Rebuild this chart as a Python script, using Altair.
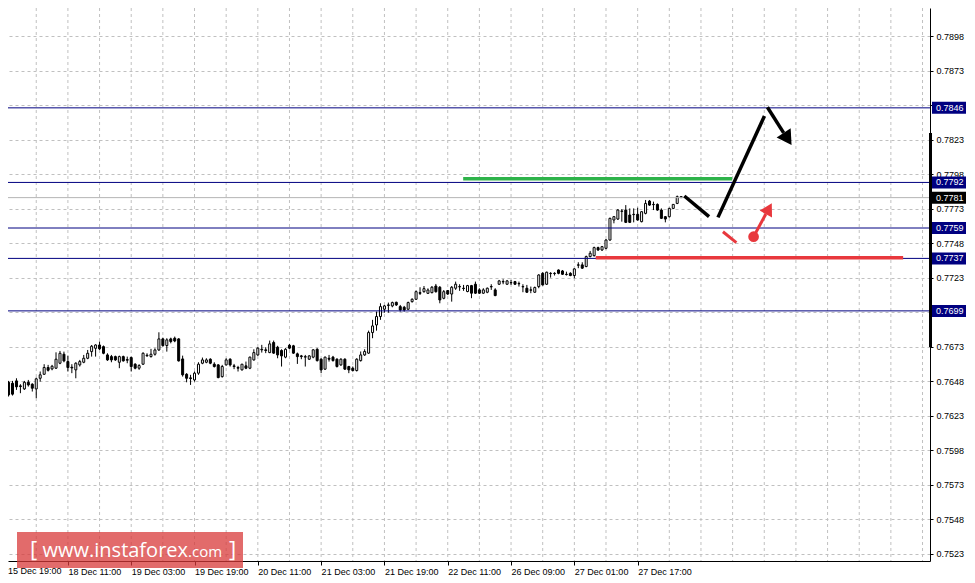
import altair as alt
import pandas as pd

# ---------------- data (H1 candles) ----------------
opens = [
    .76418, .76473, .76466, .76483, .76447, .76425, .76473, .76459, .76425, .76502,
    .76531, .76580, .76570, .76575, .76611, .76676, .76623, .76582, .76563, .76599,
    .76618, .76647, .76695, .76719, .76743, .76731, .76671, .76659, .76659, .76618,
    .76659, .76637, .76652, .76604, .76575, .76604, .76669, .76659, .76676, .76707,
    .76787, .76739, .76787, .76792, .76787, .76642, .76531, .76505, .76490, .76539,
    .76611, .76618, .76640, .76604, .76599, .76514, .76599, .76640,
    .76592, .76580, .76563, .76592, .76575, .76635, .76671, .76712, .76708, .76688,
    .76761, .76727, .76703, .76655, .76741, .76737, .76679, .76664, .76655, .76640,
    .76655, .76712, .76640, .76568, .76647, .76655, .76640, .76599, .76640, .76587,
    .76575, .76558, .76630, .76671, .76684, .76833, .76888, .76949, .77002, .77033,
    .77026, .77052, .77021, .77016, .77002, .77057, .77074, .77122, .77129, .77117,
    .77122, .77170, .77161, .77081, .77137, .77112,
    .77154, .77166, .77154, .77130, .77173, .77183, .77142, .77118, .77125, .77166,
    .77142, .77183, .77202, .77183, .77195, .77202, .77188, .77166, .77154, .77142,
    .77125, .77166, .77262, .77183, .77262, .77262, .77286, .77279, .77255, .77262,
    .77246, .77323, .77323, .77311, .77383, .77390, .77448, .77431, .77443, .77503,
    .77648, .77655, .77713, .77720, .77684, .77689, .77689, .77636, .77696, .77785,
    .77761, .77761, .77720, .77672, .77672, .77732, .77768, .77817,
]
highs = [
    .76466, .76483, .76483, .76502, .76459, .76483, .76490, .76466, .76507, .76551,
    .76604, .76599, .76599, .76690, .76700, .76695, .76666, .76604, .76618, .76635,
    .76671, .76707, .76743, .76748, .76768, .76739, .76683, .76671, .76666, .76666,
    .76666, .76659, .76659, .76611, .76604, .76690, .76683, .76715, .76719, .76835,
    .76796, .76792, .76796, .76804, .76792, .76666, .76539, .76527, .76551, .76618,
    .76652, .76647, .76647, .76618, .76604, .76599, .76647, .76647,
    .76606, .76592, .76606, .76623, .76659, .76712, .76727, .76744, .76727, .76775,
    .76775, .76737, .76712, .76720, .76751, .76744, .76688, .76671, .76671, .76669,
    .76712, .76720, .76647, .76659, .76671, .76664, .76647, .76647, .76647, .76592,
    .76587, .76647, .76696, .76712, .76847, .76925, .76985, .77045, .77033, .77050,
    .77057, .77057, .77033, .77026, .77057, .77081, .77137, .77161, .77170, .77153,
    .77170, .77185, .77170, .77141, .77141, .77170,
    .77202, .77183, .77178, .77178, .77178, .77202, .77154, .77154, .77159, .77183,
    .77154, .77214, .77219, .77214, .77214, .77207, .77202, .77183, .77178, .77166,
    .77166, .77255, .77270, .77274, .77270, .77270, .77290, .77286, .77274, .77270,
    .77299, .77342, .77342, .77390, .77424, .77455, .77455, .77460, .77510, .77665,
    .77677, .77727, .77727, .77756, .77732, .77732, .77737, .77713, .77793, .77793,
    .77781, .77768, .77732, .77677, .77737, .77763, .77825, .77817,
]
lows = [
    .76406, .76370, .76377, .76418, .76394, .76418, .76442, .76406, .76358, .76478,
    .76527, .76551, .76560, .76570, .76604, .76618, .76551, .76539, .76502, .76587,
    .76611, .76640, .76659, .76659, .76707, .76676, .76628, .76618, .76628, .76575,
    .76623, .76611, .76551, .76567, .76563, .76599, .76659, .76652, .76666, .76700,
    .76731, .76695, .76755, .76763, .76623, .76514, .76473, .76454, .76478, .76527,
    .76604, .76611, .76604, .76580, .76502, .76507, .76594, .76587,
    .76568, .76551, .76558, .76568, .76568, .76630, .76664, .76688, .76684, .76684,
    .76679, .76647, .76587, .76647, .76712, .76679, .76606, .76640, .76587, .76635,
    .76647, .76623, .76539, .76563, .76623, .76623, .76580, .76592, .76563, .76539,
    .76551, .76551, .76623, .76664, .76679, .76792, .76847, .76925, .76977, .76977,
    .77016, .77026, .76985, .76985, .76997, .77050, .77069, .77105, .77122, .77112,
    .77117, .77122, .77045, .77074, .77105, .77057,
    .77142, .77135, .77135, .77125, .77082, .77113, .77113, .77113, .77118, .77142,
    .77096, .77178, .77183, .77178, .77178, .77178, .77166, .77125, .77120, .77118,
    .77120, .77154, .77173, .77178, .77231, .77246, .77255, .77250, .77246, .77241,
    .77226, .77299, .77294, .77306, .77378, .77383, .77424, .77424, .77436, .77498,
    .77624, .77648, .77636, .77626, .77626, .77631, .77643, .77631, .77689, .77751,
    .77720, .77715, .77655, .77631, .77665, .77727, .77763, .77810,
]
closes = [
    .76454, .76382, .76387, .76440, .76442, .76473, .76454, .76430, .76498, .76527,
    .76580, .76560, .76589, .76640, .76683, .76628, .76580, .76577, .76611, .76623,
    .76647, .76683, .76734, .76743, .76715, .76683, .76635, .76635, .76635, .76659,
    .76628, .76633, .76587, .76575, .76594, .76683, .76664, .76676, .76707, .76787,
    .76739, .76780, .76768, .76772, .76628, .76527, .76502, .76500, .76539, .76604,
    .76635, .76635, .76611, .76587, .76507, .76587, .76635, .76599,
    .76587, .76575, .76604, .76575, .76655, .76688, .76720, .76708, .76703, .76751,
    .76684, .76671, .76664, .76712, .76720, .76684, .76659, .76659, .76659, .76664,
    .76708, .76630, .76563, .76655, .76640, .76630, .76587, .76640, .76568, .76563,
    .76558, .76640, .76671, .76696, .76833, .76881, .76949, .77021, .77026, .77030,
    .77050, .77033, .76997, .76997, .77050, .77074, .77129, .77117, .77151, .77141,
    .77161, .77129, .77069, .77129, .77112, .77161,
    .77183, .77164, .77152, .77173, .77118, .77118, .77118, .77142, .77154, .77164,
    .77101, .77207, .77200, .77207, .77193, .77183, .77186, .77164, .77125, .77140,
    .77159, .77250, .77178, .77270, .77260, .77260, .77262, .77255, .77253, .77246,
    .77294, .77321, .77299, .77383, .77407, .77448, .77431, .77455, .77503, .77660,
    .77672, .77720, .77711, .77631, .77631, .77687, .77648, .77708, .77768, .77756,
    .77759, .77720, .77660, .77655, .77732, .77761, .77817, .77810,
]
bar_index = list(range(len(closes)))

y_ticks = [0.7898, 0.7873, 0.7848, 0.7823, 0.7798, 0.7773, 0.7748, 0.7723,
           0.7698, 0.7673, 0.7648, 0.7623, 0.7598, 0.7573, 0.7548, 0.7523]
y_hidden_labels = [0.7848, 0.7698]   # covered by the level tags in the reference
x_tick_index = [0, 16, 32, 48, 64, 80, 96, 112, 128, 144, 160]
x_tick_labels = ["15 Dec 19:00", "18 Dec 11:00", "19 Dec 03:00", "19 Dec 19:00",
                 "20 Dec 11:00", "21 Dec 03:00", "21 Dec 19:00", "22 Dec 11:00",
                 "26 Dec 09:00", "27 Dec 01:00", "27 Dec 17:00"]
grid_x = list(range(8, 233, 8))

level_prices = [0.7846, 0.7792, 0.7759, 0.7737, 0.7699]
bid_price = 0.7781
bid_bar = [0.78278, 0.76728]

green_i = [115.9, 183.9]
green_p = [0.77947, 0.77947]
red_i = [149.4, 227.1]
red_p = [0.77375, 0.77375]
path_seg = [1, 1, 2, 2, 3, 3]
path_i = [171.8, 178.05, 180.3, 192.05, 192.8, 196.9]
path_p = [0.77822, 0.77672, 0.77667, 0.78401, 0.78464, 0.78279]
black_head = (197.9, 0.78235)
red_dash_i = [181.55, 184.95]
red_dash_p = [0.77563, 0.77484]
red_dot = (189.3, 0.77527)
red_arrow_i = [189.3, 192.4]
red_arrow_p = [0.77527, 0.77691]
red_head = (193.15, 0.77730)

# ---------------- layout ----------------
W, H = 922, 553
y_domain = [0.75179, 0.79183]
x_domain = [2.125, 232.625]
ppp = (y_domain[1] - y_domain[0]) / H
FONT = "Liberation Sans"
NAVY = "#000080"
GRID = "#c0c0c0"
RED = "#e8383d"

xs = alt.Scale(domain=x_domain, nice=False, zero=False)
ys = alt.Scale(domain=y_domain, nice=False, zero=False)

label_js = "[" + ",".join("'" + t + "'" for t in x_tick_labels) + "]"
hide_js = " || ".join(f"abs(datum.value - {v}) < 0.00001" for v in y_hidden_labels)
x_axis = alt.Axis(values=x_tick_index[1:], labelExpr=label_js + "[round(datum.value/16)]",
                  grid=False, tickSize=4, tickColor="black", domainColor="black",
                  labelAlign="left", labelPadding=2, labelFlush=False, labelOverlap=False,
                  labelFont=FONT, labelFontSize=9, labelColor="black", title=None)
y_axis = alt.Axis(values=y_ticks, labelExpr=f"({hide_js}) ? '' : format(datum.value, '.4f')",
                  orient="right", grid=True,
                  gridColor=GRID, gridDash=[3, 3], tickSize=3, tickColor="black",
                  domainColor="black", labelPadding=3, labelOverlap=False,
                  labelFont=FONT, labelFontSize=9, labelColor="black", title=None)


def X(field):
    return alt.X(field, scale=xs, axis=x_axis)


def Y(field):
    return alt.Y(field, scale=ys, axis=y_axis)


candles = pd.DataFrame({"i": bar_index, "o": opens, "h": highs, "l": lows, "c": closes})

vgrid = alt.Chart(pd.DataFrame({"i": grid_x})).mark_rule(
    color=GRID, strokeDash=[3, 3], strokeWidth=1).encode(
    x=X("i:Q"), y=alt.value(0), y2=alt.value(H))

wick = alt.Chart(candles).mark_rule(color="black", strokeWidth=1).encode(
    x=X("i:Q"), y=Y("l:Q"), y2="h:Q")

body = alt.Chart(candles).mark_bar(size=2, stroke="black", strokeWidth=1).encode(
    x=X("i:Q"), y=Y("o:Q"), y2="c:Q",
    fill=alt.condition("datum.c >= datum.o", alt.value("white"), alt.value("black")))

levels = pd.DataFrame({"p": level_prices,
                       "lbl": [f"{v:.4f}" for v in level_prices]})
levels["p_hi"] = levels["p"] + 6 * ppp
levels["p_lo"] = levels["p"] - 6 * ppp

level_lines = alt.Chart(levels).mark_rule(color=NAVY, strokeWidth=1).encode(
    y=Y("p:Q"), x=alt.value(0), x2=alt.value(W))

bid = pd.DataFrame({"p": [bid_price], "lbl": [f"{bid_price:.4f}"],
                    "p_hi": [bid_price + 6 * ppp], "p_lo": [bid_price - 6 * ppp]})
bid_line = alt.Chart(bid).mark_rule(color="#b4b4b4", strokeWidth=1).encode(
    y=Y("p:Q"), x=alt.value(0), x2=alt.value(W))

axis_bar = alt.Chart(pd.DataFrame({"a": [bid_bar[0]], "b": [bid_bar[1]]})).mark_rule(
    color="black", strokeWidth=3).encode(
    x=alt.value(W + 0.5), y=Y("a:Q"), y2="b:Q")


def tag(df, color):
    box = alt.Chart(df).mark_rect(fill=color).encode(
        x=alt.value(W + 2), x2=alt.value(W + 36), y=Y("p_hi:Q"), y2="p_lo:Q")
    txt = alt.Chart(df).mark_text(color="white", align="left", baseline="middle",
                                  font=FONT, fontSize=9).encode(
        x=alt.value(W + 6), y=Y("p:Q"), text="lbl:N")
    return [box, txt]


green = alt.Chart(pd.DataFrame({"i": green_i, "p": green_p})).mark_line(
    color="#2eb34a", strokeWidth=3.5).encode(x=X("i:Q"), y=Y("p:Q"))
redline = alt.Chart(pd.DataFrame({"i": red_i, "p": red_p})).mark_line(
    color=RED, strokeWidth=3.5).encode(x=X("i:Q"), y=Y("p:Q"))
path = alt.Chart(pd.DataFrame({"seg": path_seg, "i": path_i, "p": path_p})).mark_line(
    color="black", strokeWidth=3.5).encode(x=X("i:Q"), y=Y("p:Q"), detail="seg:N")
bhead = alt.Chart(pd.DataFrame({"i": [black_head[0]], "p": [black_head[1]]})).mark_point(
    shape="triangle-up", filled=True, size=280, angle=147, color="black", opacity=1).encode(
    x=X("i:Q"), y=Y("p:Q"))
rdash = alt.Chart(pd.DataFrame({"i": red_dash_i, "p": red_dash_p})).mark_line(
    color=RED, strokeWidth=3).encode(x=X("i:Q"), y=Y("p:Q"))
rarrow = alt.Chart(pd.DataFrame({"i": red_arrow_i, "p": red_arrow_p})).mark_line(
    color=RED, strokeWidth=3).encode(x=X("i:Q"), y=Y("p:Q"))
rhead = alt.Chart(pd.DataFrame({"i": [red_head[0]], "p": [red_head[1]]})).mark_point(
    shape="triangle-up", filled=True, size=200, angle=29, color=RED, opacity=1).encode(
    x=X("i:Q"), y=Y("p:Q"))
rdot = alt.Chart(pd.DataFrame({"i": [red_dot[0]], "p": [red_dot[1]]})).mark_circle(
    size=115, color=RED, opacity=1).encode(x=X("i:Q"), y=Y("p:Q"))

first_label = alt.Chart(pd.DataFrame({"t": [x_tick_labels[0]]})).mark_text(
    align="left", baseline="top", font=FONT, fontSize=9, color="black").encode(
    x=alt.value(0), y=alt.value(H + 6), text="t:N")

# watermark
wm = pd.DataFrame({"a": [0]})
wm_box = alt.Chart(wm).mark_rect(fill="#d83a3a", opacity=0.75).encode(
    x=alt.value(9), x2=alt.value(235), y=alt.value(524), y2=alt.value(560))


def wtext(t, x, size, align):
    return alt.Chart(pd.DataFrame({"t": [t]})).mark_text(
        align=align, baseline="alphabetic", font="Open Sans", fontSize=size,
        color="white").encode(x=alt.value(x), y=alt.value(549), text="t:N")


wm_layers = [wm_box,
             wtext("[", 22, 22, "left"),
             wtext("www.instaforex", 180, 20, "right"),
             wtext(".com", 180, 15, "left"),
             wtext("]", 221, 22, "left")]

layers = ([vgrid, wick, body, level_lines, bid_line, axis_bar]
          + tag(levels, NAVY) + tag(bid, "black")
          + [green, redline, path, bhead, rdash, rarrow, rhead, rdot, first_label]
          + wm_layers)

chart = alt.layer(*layers).properties(
    width=W, height=H,
    autosize=alt.AutoSizeParams(type="none"),
    padding={"left": 0, "top": 0, "right": 37, "bottom": 14},
    background="white",
).configure_view(stroke=None)

chart.save("out.html", embed_options={"renderer": "svg", "actions": False})
